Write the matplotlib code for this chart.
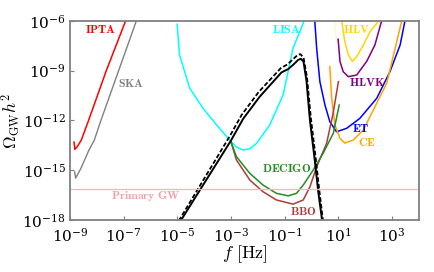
import numpy as np
import matplotlib
matplotlib.use('Agg')
import matplotlib.pyplot as plt
import matplotlib.ticker as ticker

plt.rcParams['mathtext.fontset'] = 'cm'
plt.rcParams['font.family'] = 'serif'
plt.rcParams['font.serif'] = ['DejaVu Serif']

# sensitivity curves as (log10 f, log10 Omega h^2)
ipta_lf = [-8.85, -8.82, -8.72, -8.58, -8.31, -7.65, -6.93]
ipta_lo = [-13.3, -13.74, -13.55, -13.18, -12.0, -9.0, -6.0]

ska_lf = [-8.83, -8.79, -8.6, -8.3, -8.1, -7.85, -7.19, -6.53]
ska_lo = [-15.1, -15.47, -14.9, -13.8, -13.2, -12.0, -9.0, -6.0]

lisa_lf = [-5.01, -4.92, -4.54, -4.04, -3.54, -3.05, -2.8, -2.55, -2.3, -2.05,
           -1.56, -1.06, -0.69, -0.28]
lisa_lo = [-6.2, -8.05, -10.06, -11.27, -12.27, -13.18, -13.6, -13.78, -13.7, -13.38,
           -12.27, -10.46, -7.65, -6.0]

decigo_lf = [-3.0, -2.8, -2.3, -1.81, -1.31, -0.87, -0.56, -0.31, 0.06, 0.43, 0.81, 1.03]
decigo_lo = [-13.3, -14.18, -15.19, -15.89, -16.39, -16.54, -16.39, -15.89, -14.99, -13.98, -12.77, -11.07]

bbo_lf = [-3.0, -2.8, -2.3, -1.81, -1.31, -0.69, -0.31, -0.06, 0.19, 0.56, 0.8, 1.0]
bbo_lo = [-13.3, -14.38, -15.59, -16.29, -16.79, -17.04, -16.79, -15.99, -14.79, -13.38, -11.6, -9.66]

et_lf = [0.12, 0.19, 0.31, 0.5, 0.68, 0.93, 1.31, 1.8, 2.43, 2.92, 3.3, 3.48]
et_lo = [-6.0, -7.65, -9.66, -11.07, -12.07, -12.68, -12.47, -11.87, -10.66, -9.06, -7.45, -6.0]

ce_lf = [0.68, 0.75, 0.87, 1.06, 1.24, 1.55, 1.93, 2.3, 2.8, 3.36]
ce_lo = [-8.75, -10.66, -12.27, -13.08, -13.36, -13.18, -12.57, -11.37, -9.76, -6.0]

hlv_lf = [1.12, 1.24, 1.37, 1.52, 1.68, 1.93, 2.18, 2.5]
hlv_lo = [-6.0, -7.25, -8.05, -8.43, -8.15, -7.45, -6.64, -6.0]

hlvk_lf = [0.99, 1.06, 1.18, 1.37, 1.68, 2.05, 2.36, 2.61]
hlvk_lo = [-7.1, -8.45, -9.06, -9.36, -9.26, -8.45, -7.45, -6.0]

pale_lf = [0.85, 0.93]
pale_lo = [-6.0, -7.2]

# signal spectrum (solid) and its variant (dashed)
sig_lf = [-4.88, -3.0, -2.55, -1.93, -1.12, -0.87, -0.69, -0.5, -0.4, -0.3,
          -0.19, -0.06, 0.12, 0.25, 0.4]
sig_lo = [-18.05, -13.2, -11.9, -10.56, -9.1, -8.9, -8.65, -8.35, -8.28, -8.45,
          -9.6, -12.0, -14.4, -16.3, -18.1]
sig2_lf = [-4.95, -3.05, -2.6, -1.98, -1.15, -0.9, -0.72, -0.52, -0.42, -0.3,
           -0.17, -0.03, 0.15, 0.28, 0.43]
sig2_lo = [-18.05, -12.95, -11.65, -10.3, -8.85, -8.62, -8.35, -8.05, -8.0, -8.2,
           -9.4, -11.8, -14.2, -16.1, -18.1]

primary_gw = -16.15

fig = plt.figure(figsize=(4.35, 2.72), dpi=100)
ax = fig.add_axes([0.161, 0.191, 0.802, 0.732])

def cv(lf, lo, **kw):
    ax.plot(10**np.array(lf), 10**np.array(lo), **kw)

cv(ipta_lf, ipta_lo, color='red', lw=1.1)
cv(ska_lf, ska_lo, color='gray', lw=1.0)
cv(lisa_lf, lisa_lo, color='cyan', lw=1.1)
cv(pale_lf, pale_lo, color='#fff8c8', lw=1.0)
cv(hlv_lf, hlv_lo, color='gold', lw=1.1)
cv(hlvk_lf, hlvk_lo, color='purple', lw=1.1)
cv(et_lf, et_lo, color='blue', lw=1.1)
cv(ce_lf, ce_lo, color='orange', lw=1.1)
cv(bbo_lf, bbo_lo, color='#b03a3a', lw=1.1)
cv(decigo_lf, decigo_lo, color='forestgreen', lw=1.1)
cv(sig2_lf, sig2_lo, color='black', lw=1.3, ls=(0, (2.5, 1.2)))
cv(sig_lf, sig_lo, color='black', lw=1.4)
ax.axhline(10**primary_gw, color='#ffb0b8', lw=0.9)

ax.set_xscale('log')
ax.set_yscale('log')
ax.set_xlim(1e-9, 1e4)
ax.set_ylim(1e-18, 1e-6)
ax.xaxis.set_major_locator(ticker.FixedLocator([1e-9, 1e-7, 1e-5, 1e-3, 1e-1, 1e1, 1e3]))
ax.yaxis.set_major_locator(ticker.FixedLocator([1e-18, 1e-15, 1e-12, 1e-9, 1e-6]))
ax.xaxis.set_minor_locator(ticker.NullLocator())
ax.yaxis.set_minor_locator(ticker.NullLocator())
ax.tick_params(direction='in', length=3, width=0.8, color='gray', labelsize=11, pad=3)
ax.tick_params(axis='x', pad=5)
for s in ax.spines.values():
    s.set_color('gray')
    s.set_linewidth(1.3)

ax.set_xlabel(r'$f\ [\mathrm{Hz}]$', fontsize=13, labelpad=-1)
ax.set_ylabel(r'$\Omega_{\rm GW}h^2$', fontsize=12.5)
ax.yaxis.set_label_coords(-0.135, 0.5)

def lab(txt, lf, lo, c):
    ax.text(10**lf, 10**lo, r'$\mathbf{' + txt + '}$', color=c, fontsize=8.5,
            ha='center', va='center')

lab('IPTA', -7.84, -6.5, 'red')
lab('SKA', -6.72, -9.76, 'gray')
lab('LISA', -0.93, -6.5, 'cyan')
lab('HLV', 1.68, -6.5, 'gold')
lab('HLVK', 2.05, -9.7, 'purple')
lab('ET', 1.82, -12.5, 'blue')
lab('CE', 2.05, -13.35, 'orange')
lab('DECIGO', -0.93, -14.88, 'forestgreen')
lab('BBO', -0.31, -17.5, '#b03a3a')
lab(r'Primary\ GW', -6.16, -16.54, '#f4a0a8')

fig.savefig('out.png', dpi=100)
